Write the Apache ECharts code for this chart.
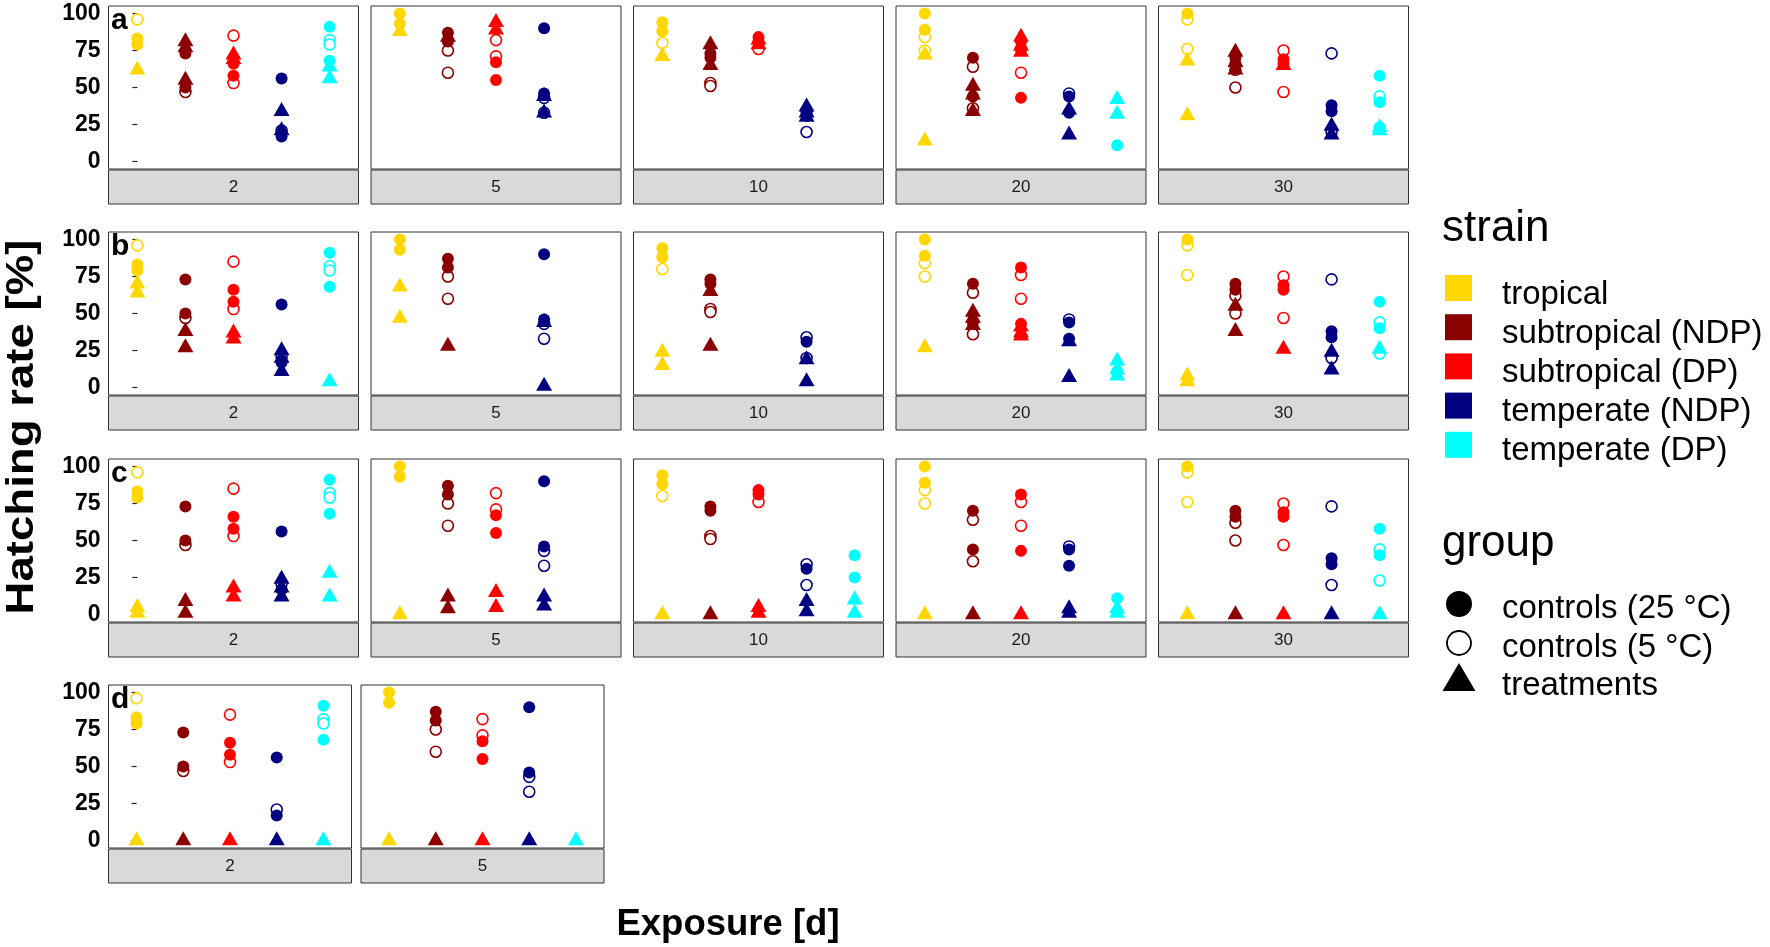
<!DOCTYPE html>
<html>
<head>
<meta charset="utf-8">
<title>Hatching rate</title>
<script src="https://cdn.jsdelivr.net/npm/echarts@6.0.0/dist/echarts.min.js"></script>
<style>
  html, body { margin: 0; padding: 0; background: #fff; }
  #chart { width: 1770px; height: 947px; }
</style>
</head>
<body>
<div id="chart"></div>
<script>
// facets and categories
const rowLetters = ['a', 'b', 'c', 'd']
const exposures = ['2', '5', '10', '20', '30']
const strains = ['tropical', 'subtropical (NDP)', 'subtropical (DP)', 'temperate (NDP)', 'temperate (DP)']
const groups = ['controls (25 °C)', 'controls (5 °C)', 'treatments']
const yTicks = [0, 25, 50, 75, 100]

// controls are the same in every row: [exposure][strain] -> hatching rates
const controls25 = [
  [[83, 79], [73, 50], [66, 58], [56, 17], [91, 68]],
  [[100, 93], [87, 81], [67, 55], [90, 46], []],
  [[94, 88], [73, 70], [84, 81], [31], [40, 25]],
  [[100, 89], [70, 44], [81, 43], [44, 33], [11]],
  [[100], [70, 66], [69, 66], [38, 34], [58, 40]],
]
const controls5 = [
  [[96], [47], [85, 53], [21], [82, 79]],
  [[], [75, 60], [82, 71], [43, 33], []],
  [[80], [53, 51], [76], [34, 20], []],
  [[84, 75], [64, 36], [76, 60], [46], []],
  [[96, 76], [62, 50], [75, 47], [73, 20], [44, 23]],
]

// treatments per row: [exposure][strain], null = strain not in that panel
const treatA = [
  [[62], [81, 77, 55], [72, 69], [34, 21], [64, 56]],
  [[88], [84], [94, 89], [44, 33], null],
  [[71], [79, 65], [82, 79], [37, 33, 30], null],
  [[72, 14], [51, 45, 34], [84, 78, 74], [35, 18], [42, 32]],
  [[68, 31], [74, 67, 62], [65], [24, 18], [23, 21]],
]
const treatB = [
  [[70, 64], [38, 27], [37, 33], [25, 20, 11], [4]],
  [[68, 47], [28], null, [44, 1], null],
  [[24, 15], [65, 28], null, [19, 4], null],
  [[27], [51, 47, 42], [41, 37, 35], [31, 7], [18, 12, 8]],
  [[8, 4], [55, 38], [26], [24, 12], [26]],
]
const treatC = [
  [[5, 1], [9, 1], [18, 12], [24, 18, 12], [28, 12]],
  [[0], [12, 4], [15, 5], [12, 6], null],
  [[0], [0], [5, 1], [9, 2], [10, 1]],
  [[0], [0], [0], [4, 1], [4, 1]],
  [[0], [0], [0], [0], [0]],
]
const treatD = [
  [[0], [0], [0], [0], [0]],
  [[0], [0], [0], [0], [0]],
]

const strainColors = ['#FFD700', '#8B0000', '#FF0000', '#000080', '#00FFFF']
const font = 'Liberation Sans'

// layout
const rowTop = [6, 232, 459, 685]
const panelH = 163
const stripH = 34
const rows = [treatA, treatB, treatC, treatD]

function panelBox(r, c) {
  if (r < 3) return { left: 108.5 + c * 262.5, width: 250 }
  return { left: 108.5 + c * 252.5, width: 243 }
}

const chart = echarts.init(document.getElementById('chart'))

const grid = []
const xAxis = []
const yAxis = []
const series = []
const graphic = []

rows.forEach((treat, r) => {
  treat.forEach((panel, c) => {
    const box = panelBox(r, c)
    const gi = grid.length
    grid.push({
      left: box.left,
      top: rowTop[r],
      width: box.width,
      height: panelH,
      show: true,
      backgroundColor: '#fff',
      borderColor: '#333',
      borderWidth: 1,
      outerBoundsMode: 'none',
    })
    xAxis.push({
      gridIndex: gi,
      type: 'value',
      min: -0.6,
      max: 4.6,
      show: false,
    })
    yAxis.push({
      gridIndex: gi,
      type: 'value',
      min: -5,
      max: 105,
      axisLine: { show: false },
      splitLine: { show: false },
      axisTick: {
        show: c === 0,
        customValues: yTicks,
        length: 5,
        lineStyle: { color: '#222', width: 1.2 },
      },
      axisLabel: {
        show: c === 0,
        customValues: yTicks,
        margin: 8,
        fontSize: 23,
        fontWeight: 'bold',
        fontFamily: font,
        color: '#000',
      },
    })

    const c5 = []
    const c25 = []
    const tr = []
    panel.forEach((vals, s) => {
      if (vals === null) return
      const col = strainColors[s]
      controls5[c][s].forEach((v) =>
        c5.push({ value: [s, v], itemStyle: { color: '#fff', borderColor: col } })
      )
      controls25[c][s].forEach((v) =>
        c25.push({ value: [s, v], itemStyle: { color: col } })
      )
      vals.forEach((v) => tr.push({ value: [s, v], itemStyle: { color: col } }))
    })

    series.push({
      name: groups[1],
      type: 'scatter',
      xAxisIndex: gi,
      yAxisIndex: gi,
      symbol: 'circle',
      symbolSize: 11,
      itemStyle: { borderWidth: 1.6, opacity: 1 },
      data: c5,
    })
    series.push({
      name: groups[0],
      type: 'scatter',
      xAxisIndex: gi,
      yAxisIndex: gi,
      symbol: 'circle',
      symbolSize: 12,
      itemStyle: { opacity: 1 },
      data: c25,
    })
    series.push({
      name: groups[2],
      type: 'scatter',
      xAxisIndex: gi,
      yAxisIndex: gi,
      symbol: 'triangle',
      symbolSize: [16, 14],
      symbolOffset: [0, -2.3],
      itemStyle: { opacity: 1 },
      data: tr,
    })

    // facet strip below the panel
    const stripTop = rowTop[r] + panelH + 1
    graphic.push({
      type: 'rect',
      shape: { x: box.left, y: stripTop, width: box.width, height: stripH },
      style: { fill: '#D9D9D9', stroke: '#333', lineWidth: 1 },
      silent: true,
    })
    graphic.push({
      type: 'text',
      x: box.left + box.width / 2,
      y: stripTop + stripH / 2,
      style: {
        text: exposures[c],
        fontSize: 17,
        fontFamily: font,
        fill: '#1A1A1A',
        align: 'center',
        verticalAlign: 'middle',
      },
      silent: true,
    })
  })

  // panel letter
  graphic.push({
    type: 'text',
    x: 111,
    y: rowTop[r] + 15,
    z: 100,
    style: {
      text: rowLetters[r],
      fontSize: 30,
      fontWeight: 'bold',
      fontFamily: font,
      fill: '#000',
      verticalAlign: 'middle',
    },
    silent: true,
  })
})

// axis titles (the y title is stretched along its length in the original)
graphic.push({
  type: 'text',
  x: 23,
  y: 427,
  rotation: Math.PI / 2,
  scaleX: 1.2,
  style: {
    text: 'Hatching rate [%]',
    fontSize: 38,
    fontWeight: 'bold',
    fontFamily: font,
    fill: '#000',
    align: 'center',
    verticalAlign: 'middle',
  },
  silent: true,
})
graphic.push({
  type: 'text',
  x: 728,
  y: 925,
  style: {
    text: 'Exposure [d]',
    fontSize: 36.5,
    fontWeight: 'bold',
    fontFamily: font,
    fill: '#000',
    align: 'center',
    verticalAlign: 'middle',
  },
  silent: true,
})

// legends
const legX = 1445
const legTextX = 1502
graphic.push({
  type: 'text', x: legX - 3, y: 229, silent: true,
  style: { text: 'strain', fontSize: 44, fontFamily: font, fill: '#000', verticalAlign: 'middle' },
})
strains.forEach((name, i) => {
  const cy = 288 + i * 39.2
  graphic.push({
    type: 'rect', silent: true,
    shape: { x: legX, y: cy - 13, width: 27, height: 26 },
    style: { fill: strainColors[i] },
  })
  graphic.push({
    type: 'text', x: legTextX, y: cy + 6.5, silent: true,
    style: { text: name, fontSize: 33, fontFamily: font, fill: '#000', verticalAlign: 'middle' },
  })
})
graphic.push({
  type: 'text', x: legX - 3, y: 544, silent: true,
  style: { text: 'group', fontSize: 44, fontFamily: font, fill: '#000', verticalAlign: 'middle' },
})
const gy = [604, 643, 681]
graphic.push({
  type: 'circle', silent: true,
  shape: { cx: legX + 14, cy: gy[0], r: 13 },
  style: { fill: '#000' },
})
graphic.push({
  type: 'circle', silent: true,
  shape: { cx: legX + 14, cy: gy[1], r: 12 },
  style: { fill: '#fff', stroke: '#000', lineWidth: 1.8 },
})
graphic.push({
  type: 'polygon', silent: true,
  shape: { points: [[legX + 14, gy[2] - 18], [legX + 30.5, gy[2] + 10], [legX - 2.5, gy[2] + 10]] },
  style: { fill: '#000' },
})
groups.forEach((name, i) => {
  graphic.push({
    type: 'text', x: legTextX, y: gy[i] + 5, silent: true,
    style: { text: name, fontSize: 33, fontFamily: font, fill: '#000', verticalAlign: 'middle' },
  })
})

chart.setOption({
  animation: false,
  backgroundColor: '#fff',
  grid: grid,
  xAxis: xAxis,
  yAxis: yAxis,
  series: series,
  graphic: graphic,
})
</script>
</body>
</html>
